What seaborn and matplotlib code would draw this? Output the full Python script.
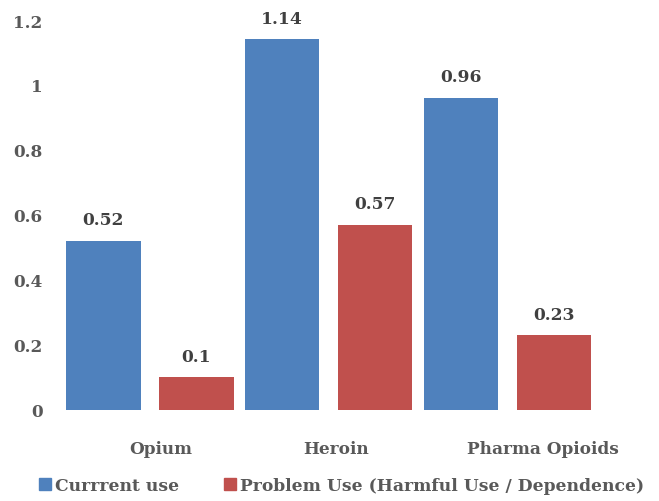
import numpy as np
import pandas as pd
import matplotlib.pyplot as plt
import seaborn as sns
from matplotlib.lines import Line2D

# Chart data
categories = ['Opium', 'Heroin', 'Pharma Opioids']
series = ['Currrent use', 'Problem Use (Harmful Use / Dependence)']
current_use = [0.52, 1.14, 0.96]
problem_use = [0.1, 0.57, 0.23]
colors = ['#4F81BD', '#C0504D']
ytick_vals = [0, 0.2, 0.4, 0.6, 0.8, 1.0, 1.2]
ytick_labels = ['0', '0.2', '0.4', '0.6', '0.8', '1', '1.2']

df = pd.DataFrame({
    'category': categories * 2,
    'series': [series[0]] * 3 + [series[1]] * 3,
    'value': current_use + problem_use,
})

sns.set_style('white')
plt.rcParams['font.family'] = ['DejaVu Serif']
plt.rcParams['font.weight'] = 'bold'

fig = plt.figure(figsize=(6.59, 5.02), dpi=100)
ax = fig.add_axes([55 / 659, 1 - 410.7 / 502, 585 / 659, 389.7 / 502])

sns.barplot(data=df, x='category', y='value', hue='series', order=categories,
            hue_order=series, palette=colors, width=1.04, gap=0.2,
            saturation=1, linewidth=0, ax=ax, legend=False)

for cont in ax.containers:
    ax.bar_label(cont, fmt='%g', padding=9, fontsize=12.3, fontweight='bold',
                 color='#404040')

ax.set_xlim(-0.53, 2.74)
ax.set_ylim(0, 1.2)
ax.set_yticks(ytick_vals)
ax.set_yticklabels(ytick_labels)
# category labels sit a bit right of the group centres in the original
ax.set_xticks([0.06, 1.04, 2.2])
ax.set_xticklabels(categories)
ax.tick_params(axis='both', length=0, labelsize=12.2, labelcolor='#595959')
ax.tick_params(axis='y', pad=9)
ax.tick_params(axis='x', pad=22)
for lbl in ax.get_xticklabels() + ax.get_yticklabels():
    lbl.set_fontweight('bold')
ax.set_xlabel('')
ax.set_ylabel('')
sns.despine(ax=ax, left=True, bottom=True)

handles = [Line2D([], [], marker='s', linestyle='', markersize=8.5,
                  markerfacecolor=c, markeredgecolor=c) for c in colors]
fig.legend(handles, series, loc='center', bbox_to_anchor=(0.515, 0.03),
           ncol=2, frameon=False, handletextpad=0.0, handlelength=1.2,
           columnspacing=2.4, prop={'size': 12.3, 'weight': 'bold'},
           labelcolor='#595959')

fig.savefig('out.png', dpi=100)
